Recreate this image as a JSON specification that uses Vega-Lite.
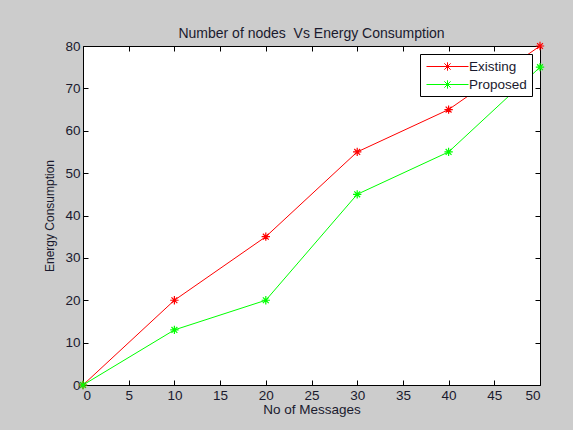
{
  "$schema": "https://vega.github.io/schema/vega-lite/v6.json",
  "autosize": {"type": "none"},
  "width": 457,
  "height": 339,
  "padding": {"left": 83, "top": 46, "right": 33, "bottom": 45},
  "background": "#cccccc",
  "title": {"text": "Number of nodes\u00a0 Vs Energy Consumption", "font": "Liberation Sans", "fontSize": 14, "fontWeight": "normal", "color": "#1a1a2e", "offset": -2},
  "config": {
    "view": {"fill": "white", "stroke": "black", "strokeWidth": 1},
    "axis": {"zindex": 1, "labelFont": "Liberation Sans", "titleFont": "Liberation Sans", "labelFontSize": 13.5, "titleFontSize": 13.5, "titleFontWeight": "normal", "labelColor": "#1a1a2e", "titleColor": "#1a1a2e", "grid": false, "domain": false, "tickColor": "black", "tickSize": 5, "offset": -5, "labelPadding": 3}
  },
  "data": {"values": [
    {"msgs": 0, "energy": 0, "series": "Existing"},
    {"msgs": 10, "energy": 20, "series": "Existing"},
    {"msgs": 20, "energy": 35, "series": "Existing"},
    {"msgs": 30, "energy": 55, "series": "Existing"},
    {"msgs": 40, "energy": 65, "series": "Existing"},
    {"msgs": 50, "energy": 80, "series": "Existing"},
    {"msgs": 0, "energy": 0, "series": "Proposed"},
    {"msgs": 10, "energy": 13, "series": "Proposed"},
    {"msgs": 20, "energy": 20, "series": "Proposed"},
    {"msgs": 30, "energy": 45, "series": "Proposed"},
    {"msgs": 40, "energy": 55, "series": "Proposed"},
    {"msgs": 50, "energy": 75, "series": "Proposed"}
  ]},
  "layer": [
    {"mark": {"type": "line", "strokeWidth": 1},
     "encoding": {
       "x": {"field": "msgs", "type": "quantitative", "scale": {"domain": [0, 50], "nice": false, "zero": false},
         "axis": {"title": "No of Messages", "values": [0,5,10,15,20,25,30,35,40,45,50], "titlePadding": 1}},
       "y": {"field": "energy", "type": "quantitative", "scale": {"domain": [0, 80], "nice": false},
         "axis": {"title": "Energy Consumption", "titleFontSize": 12, "values": [0,10,20,30,40,50,60,70,80], "titlePadding": 8}},
       "color": {"field": "series", "type": "nominal", "scale": {"domain": ["Existing", "Proposed"], "range": ["#ff0000", "#00ff00"]},
         "legend": {"title": null, "orient": "top-right", "offset": 8, "fillColor": "white", "strokeColor": "black", "padding": 5, "zindex": 2,
           "labelFont": "Liberation Sans", "labelFontSize": 13.5, "labelColor": "#1a1a2e",
           "symbolType": "M-3,0H3M0,-0.6V0.6M-0.45,-0.45L0.45,0.45M-0.45,0.45L0.45,-0.45", "symbolSize": 196, "symbolStrokeWidth": 1, "symbolFillColor": "transparent", "symbolOffset": 15, "labelOffset": 14, "rowPadding": 4}}
     }},
    {"mark": {"type": "point", "shape": "M-1,0H1M0,-1V1M-0.7,-0.7L0.7,0.7M-0.7,0.7L0.7,-0.7", "size": 70, "filled": false, "strokeWidth": 1.2, "opacity": 1},
     "encoding": {
       "x": {"field": "msgs", "type": "quantitative", "axis": {"orient": "top", "labels": false, "title": null, "values": [0,5,10,15,20,25,30,35,40,45,50]}},
       "y": {"field": "energy", "type": "quantitative", "axis": {"orient": "right", "labels": false, "title": null, "values": [0,10,20,30,40,50,60,70,80]}},
       "color": {"field": "series", "type": "nominal"}
     }}
  ],
  "resolve": {"axis": {"x": "independent", "y": "independent"}}
}
